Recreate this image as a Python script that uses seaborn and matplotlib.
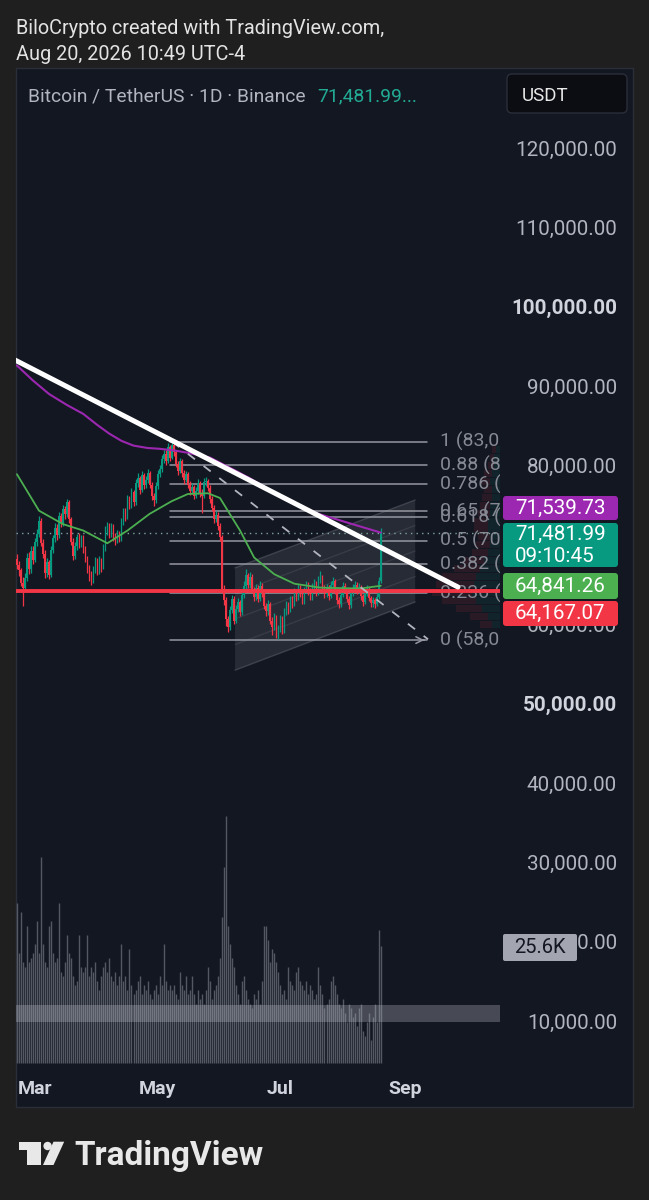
import numpy as np
import pandas as pd
import seaborn as sns
import matplotlib.pyplot as plt
import matplotlib.dates as mdates
from matplotlib.patches import Rectangle, FancyBboxPatch, Polygon, Circle

# BTC/USDT daily candles, Feb 20 - Aug 20 2026 (prices in thousands of USDT)
first_day = "2026-02-20"
first_open_k = 68.2
close_k = [67.5, 66.8, 65.2, 64.6, 65.8, 68.4, 66.9, 69.2, 68.1, 70.3,
           71.4, 73.0, 70.2, 68.9, 66.5, 67.8, 66.2, 69.4, 70.8, 72.1,
           71.2, 73.6, 72.8, 74.5, 73.9, 75.4, 73.2, 70.4, 68.6, 69.8,
           71.0, 70.1, 70.9, 69.5, 68.2, 67.0, 66.2, 65.6, 66.8, 67.9,
           66.7, 68.0, 67.2, 69.6, 71.8, 72.4, 71.5, 72.3, 71.0, 70.6,
           71.4, 70.8, 72.9, 74.1, 73.6, 75.8, 75.0, 76.6, 75.4, 77.8,
           78.4, 76.9, 78.8, 77.5, 78.2, 79.0, 77.6, 76.1, 75.6, 77.4,
           78.9, 79.6, 80.8, 81.5, 80.6, 82.3, 81.0, 82.6, 81.7, 80.2,
           79.3, 80.5, 79.0, 78.2, 78.9, 77.6, 76.8, 77.3, 76.2, 76.8,
           77.8, 76.5, 76.2, 77.9, 78.0, 77.2, 75.8, 74.7, 73.2, 73.8,
           72.4, 71.0, 64.4, 63.0, 60.6, 59.6, 61.8, 63.2, 60.4, 61.9,
           62.8, 61.5, 63.7, 64.8, 66.2, 64.9, 66.0, 64.3, 63.4, 64.6,
           63.2, 64.8, 63.9, 62.3, 61.6, 62.5, 60.4, 59.6, 61.0, 58.9,
           59.4, 60.6, 59.2, 61.5, 62.4, 61.8, 63.1, 62.6, 64.0, 63.3,
           64.6, 63.8, 62.9, 64.2, 65.0, 64.1, 63.4, 64.7, 65.2, 64.0,
           65.6, 65.9, 64.5, 63.8, 64.6, 63.6, 64.9, 65.4, 64.2, 63.1,
           62.5, 63.7, 64.8, 64.3, 63.2, 62.4, 63.9, 64.6, 65.0, 64.2,
           64.7, 63.5, 62.8, 63.9, 64.4, 63.3, 62.7, 63.0, 62.6, 63.4,
           65.5, 71.48199]
high_k = [68.9, 68.0, 67.1, 65.9, 66.4, 69.0, 69.1, 69.8, 69.9, 70.9,
          72.0, 73.6, 73.4, 70.7, 69.3, 68.4, 68.1, 69.9, 71.3, 72.7,
          72.6, 74.1, 74.0, 75.0, 74.9, 75.8, 75.6, 73.5, 70.8, 70.3,
          71.4, 71.5, 71.3, 71.2, 69.9, 68.6, 67.4, 66.7, 67.3, 68.5,
          68.3, 68.6, 68.4, 70.1, 72.4, 72.9, 72.8, 72.8, 72.6, 71.5,
          71.9, 71.8, 73.4, 74.7, 74.6, 76.3, 76.2, 77.1, 76.9, 78.3,
          79.0, 78.7, 79.3, 79.1, 78.7, 79.5, 79.3, 77.9, 76.5, 77.9,
          79.4, 80.1, 81.3, 82.0, 81.9, 82.8, 82.6, 83.0, 82.9, 82.0,
          80.6, 81.0, 80.8, 79.4, 79.3, 79.2, 78.0, 77.8, 77.6, 77.3,
          78.3, 78.1, 77.0, 78.4, 78.5, 78.3, 77.5, 76.1, 75.0, 74.3,
          74.1, 72.8, 71.3, 64.9, 63.4, 61.0, 62.3, 63.7, 63.5, 62.4,
          63.3, 63.1, 64.2, 65.4, 67.0, 66.5, 66.6, 66.3, 64.7, 65.1,
          64.9, 65.5, 65.2, 64.2, 62.7, 63.0, 62.8, 60.9, 61.4, 61.2,
          59.9, 61.1, 61.0, 62.0, 62.9, 62.8, 63.6, 63.5, 64.5, 64.4,
          65.1, 65.0, 64.1, 64.7, 65.5, 65.3, 64.5, 65.2, 65.7, 65.5,
          66.1, 66.7, 66.2, 64.9, 65.1, 64.9, 65.4, 65.9, 65.7, 64.5,
          63.4, 64.2, 65.3, 65.2, 64.6, 63.5, 64.4, 65.1, 65.5, 65.3,
          65.2, 65.0, 63.8, 64.4, 64.9, 64.7, 63.6, 63.4, 63.3, 63.9,
          66.0, 72.1]
low_k = [66.9, 66.1, 64.8, 62.3, 64.2, 65.5, 66.3, 66.5, 67.6, 67.8,
         69.9, 71.0, 69.8, 68.3, 65.8, 66.0, 65.7, 65.9, 69.0, 70.4,
         70.6, 70.9, 72.2, 72.4, 73.3, 73.5, 72.8, 70.0, 68.1, 68.2,
         69.4, 69.6, 69.7, 69.0, 67.8, 66.5, 65.4, 64.9, 65.2, 66.4,
         66.2, 66.3, 66.6, 66.9, 69.2, 71.2, 70.9, 71.0, 70.5, 70.0,
         70.2, 70.3, 70.5, 72.5, 73.0, 73.2, 74.5, 74.7, 74.9, 75.0,
         77.3, 76.4, 76.6, 77.0, 77.1, 77.8, 77.2, 75.6, 74.9, 75.3,
         77.0, 78.5, 79.2, 80.3, 80.1, 80.3, 80.6, 80.8, 81.2, 79.8,
         78.8, 79.0, 78.6, 77.7, 77.9, 77.1, 76.3, 76.4, 75.8, 75.9,
         76.4, 76.0, 74.0, 75.9, 77.4, 76.8, 75.3, 74.2, 72.8, 72.9,
         71.9, 70.5, 63.9, 62.4, 59.8, 59.0, 59.3, 61.4, 60.0, 60.1,
         61.5, 61.0, 61.2, 63.3, 64.4, 64.5, 64.6, 63.9, 62.9, 63.0,
         62.8, 62.9, 63.4, 61.9, 61.0, 61.2, 60.0, 58.6, 59.3, 58.3,
         58.1, 59.0, 58.8, 58.9, 61.1, 61.3, 61.5, 62.1, 62.3, 62.9,
         63.0, 63.4, 62.5, 62.6, 63.9, 63.7, 63.0, 63.1, 64.3, 63.6,
         63.7, 65.2, 64.1, 63.3, 63.4, 63.1, 63.3, 64.5, 63.8, 62.6,
         62.0, 62.2, 63.4, 63.9, 62.8, 61.9, 62.1, 63.5, 64.2, 63.8,
         63.9, 63.1, 62.3, 62.5, 63.6, 62.9, 62.2, 62.2, 62.1, 62.3,
         63.2, 65.2]
volume_k = [35, 24, 33, 22, 21, 30, 22, 23, 24, 26,
            31, 24, 45, 26, 22, 21, 30, 31, 24, 22,
            23, 35, 20, 19, 22, 28, 24, 23, 19, 17,
            18, 28, 21, 20, 21, 28, 19, 21, 20, 22,
            18, 16, 19, 21, 22, 20, 23, 19, 18, 20,
            17, 19, 26, 18, 19, 16, 25, 17, 15, 16,
            18, 19, 15, 17, 16, 18, 15, 14, 16, 17,
            15, 19, 17, 26, 18, 16, 17, 16, 17, 15,
            14, 20, 17, 16, 19, 15, 16, 19, 15, 13,
            16, 14, 15, 13, 16, 21, 18, 14, 16, 17,
            19, 23, 32, 43, 54, 30, 26, 23, 21, 17,
            15, 13, 18, 19, 16, 14, 13, 12, 15, 14,
            16, 13, 18, 30, 30, 27, 22, 25, 24, 22,
            20, 17, 15, 16, 14, 21, 18, 17, 16, 20,
            21, 18, 17, 16, 18, 15, 17, 16, 14, 15,
            21, 17, 15, 12, 13, 14, 18, 19, 17, 15,
            13, 12, 14, 11, 9, 13, 12, 10, 11, 8,
            12, 13, 7, 6, 9, 11, 5, 10, 13, 9,
            29, 25.6]

# indicators (day offset from first_day, value in k)
ma_green_day = [0, 11, 23, 33, 45, 55, 66, 77, 85, 95, 101, 111, 118, 128, 138, 151, 171, 181]
ma_green_k = [78.9, 74.3, 72.6, 71.8, 70.2, 71.8, 73.9, 75.5, 76.4, 76.5, 75.9, 71.8, 68.4,
              66.3, 65.1, 64.6, 64.5, 64.84126]
ma_purple_day = [0, 8, 16, 25, 33, 40, 46, 52, 58, 65, 71, 78, 85, 96, 106, 115, 124, 134, 150, 167, 181]
ma_purple_k = [92.6, 90.7, 89.0, 87.6, 86.5, 85.1, 84.0, 83.1, 82.5, 82.2, 82.1, 81.9, 81.6, 81.0,
               79.7, 78.5, 77.2, 75.6, 73.9, 72.6, 71.53973]
red_level = 64167.07

# drawings
trend_day = [-1, 219.4]
trend_k = [93.29, 64.68]
fib_day = [76.2, 204.0]
fib_low, fib_high = 58000, 83000
fib_levels = [0, 0.236, 0.382, 0.5, 0.618, 0.65, 0.786, 0.88, 1]
fib_diag_day = [77.2, 204.5]
fib_diag_k = [83.0, 58.1]
channel_day = [108.5, 198.1]
channel_low_k = [54.2, 62.8]
channel_high_k = [67.1, 75.65]
band_k = [9.87, 12.0]

# visible range volume profile (k price levels, widths in days)
vp_levels_k = [60, 61, 62, 63, 64, 65, 66, 67, 68, 69, 70, 71, 72, 73, 74, 75, 76, 77, 78, 79, 80, 81, 82]
vp_up_days = [4, 6, 9, 12, 14, 13, 12, 10, 8, 6, 5, 5, 6, 6, 5, 5, 4, 4, 5, 4, 3, 3, 2]
vp_down_days = [6, 9, 13, 17, 20, 19, 17, 13, 10, 8, 7, 6, 7, 7, 6, 5, 5, 4, 4, 4, 3, 2, 2]

OUTER = "#1f1f1f"
PANEL = "#131722"
UP = "#089981"
DOWN = "#f23645"
GRAY = "#b2b5be"

sns.set_theme(style="dark", rc={"axes.facecolor": PANEL, "figure.facecolor": OUTER})
plt.rcParams["font.family"] = ["Roboto", "DejaVu Sans"]

t0 = pd.Timestamp(first_day)


def dnum(d):
    return mdates.date2num(t0 + pd.Timedelta(days=d))


df = pd.DataFrame({
    "date": pd.date_range(first_day, periods=len(close_k), freq="D"),
    "close": np.array(close_k) * 1000,
    "high": np.array(high_k) * 1000,
    "low": np.array(low_k) * 1000,
    "volume": volume_k,
})
df["open"] = df["close"].shift(1).fillna(first_open_k * 1000)
df["color"] = np.where(df["close"] >= df["open"], UP, DOWN)

fig = plt.figure(figsize=(6.49, 12), dpi=100, facecolor=OUTER)

# background layer in pixel coordinates
bg = fig.add_axes([0, 0, 1, 1], zorder=-10)
bg.set_xlim(0, 649)
bg.set_ylim(1200, 0)
bg.axis("off")
bg.add_patch(Rectangle((15.5, 68), 617, 1039, fc=PANEL, ec="#2a2e39", lw=1))
bg.text(16, 33.5, "BiloCrypto created with TradingView.com,", color="#e3e3e3", fontsize=14.3, va="baseline")
bg.text(16, 60, "Aug 20, 2026 10:49 UTC-4", color="#e3e3e3", fontsize=14.3, va="baseline")
bg.text(28, 101.5, "Bitcoin / TetherUS · 1D · Binance", color=GRAY, fontsize=13.9, va="baseline")
bg.text(317, 101.5, f"{close_k[-1] * 1000:,.2f}...", color="#22ab94", fontsize=13.9, va="baseline")
# TradingView logo
bg.add_patch(Polygon([(18.6, 1141.7), (41.4, 1141.7), (41.4, 1165), (27, 1165), (27, 1150), (18.6, 1150)],
                     closed=True, fc="#e8e8e8", ec="none"))
bg.add_patch(Circle((47.6, 1146), 4.2, fc="#e8e8e8", ec="none"))
bg.add_patch(Polygon([(53.5, 1141.7), (64.2, 1141.7), (53.5, 1165), (43, 1165)], closed=True, fc="#e8e8e8", ec="none"))
bg.text(74, 1165, "TradingView", color="#e8e8e8", fontsize=24, fontweight="bold", va="baseline")

# price axes + volume twin
ax = fig.add_axes([16 / 649, 130 / 1200, 484 / 649, 999 / 1200])
axv = ax.twinx()
ax.set_zorder(2)
axv.set_zorder(1)
ax.patch.set_visible(False)
axv.patch.set_visible(False)

axv.vlines(df["date"], 0, df["volume"], color="#545863", lw=1.0)
axv.set_ylim(-1.53, 217.1)
axv.set_yticks([])
axv.tick_params(right=False, labelright=False)

# channel
cx = [dnum(channel_day[0]), dnum(channel_day[1]), dnum(channel_day[1]), dnum(channel_day[0])]
cy = [channel_low_k[0] * 1000, channel_low_k[1] * 1000, channel_high_k[1] * 1000, channel_high_k[0] * 1000]
ax.add_patch(Polygon(list(zip(cx, cy)), closed=True, fc=GRAY, alpha=0.13, ec="none", zorder=1))
for f in [0, 0.25, 0.5, 0.75, 1]:
    ys = [(channel_low_k[j] + f * (channel_high_k[j] - channel_low_k[j])) * 1000 for j in range(2)]
    ax.plot([cx[0], cx[1]], ys, color=GRAY, alpha=0.22 if f in (0, 1) else 0.12, lw=1, zorder=1)

# volume profile
right = dnum(240.3)
vp_lv = np.array(vp_levels_k) * 1000
ax.barh(vp_lv, vp_up_days, left=right - np.array(vp_up_days), height=880, color=UP, alpha=0.1, lw=0, zorder=1)
ax.barh(vp_lv, vp_down_days, left=right - np.array(vp_up_days) - np.array(vp_down_days), height=880,
        color=DOWN, alpha=0.1, lw=0, zorder=1)

# band drawing over volume
ax.axhspan(band_k[0] * 1000, band_k[1] * 1000, color=GRAY, alpha=0.33, lw=0, zorder=1)

# fib retracement
for lv in fib_levels:
    p = fib_low + lv * (fib_high - fib_low)
    ax.plot([dnum(fib_day[0]), dnum(fib_day[1])], [p, p], color="#9598a1", lw=1.1, zorder=2)
    ax.text(dnum(210.5), p, f"{lv:g} ({p:,.2f})", color="#868993", fontsize=14, va="center", ha="left",
            clip_on=True, zorder=2)
ax.annotate("", xy=(dnum(fib_day[1]), fib_low), xytext=(dnum(fib_day[1] - 3), fib_low),
            arrowprops=dict(arrowstyle="->", color="#9598a1", lw=1.1), zorder=2)
ax.plot([dnum(d) for d in fib_diag_day], [v * 1000 for v in fib_diag_k], color=GRAY, lw=1.3,
        ls=(0, (5, 6)), zorder=5)

# last price line
ax.axhline(close_k[-1] * 1000, color="#7fa39d", lw=1, ls=(0, (1, 3)), zorder=2)

# candles
ax.vlines(df["date"], df["low"], df["high"], colors=df["color"], lw=0.9, zorder=3)
body_lo = np.minimum(df["open"], df["close"])
body_h = np.maximum(np.abs(df["close"] - df["open"]), 80)
ax.bar(df["date"], body_h, bottom=body_lo, width=0.72, color=df["color"], lw=0, zorder=3)

# moving averages
sns.lineplot(x=t0 + pd.to_timedelta(ma_purple_day, unit="D"), y=np.array(ma_purple_k) * 1000,
             ax=ax, color="#9c27b0", lw=1.5, zorder=4)
sns.lineplot(x=t0 + pd.to_timedelta(ma_green_day, unit="D"), y=np.array(ma_green_k) * 1000,
             ax=ax, color="#4caf50", lw=1.3, zorder=4)

ax.axhline(red_level, color=DOWN, lw=2.8, zorder=4.5)
ax.plot([dnum(d) for d in trend_day], [v * 1000 for v in trend_k], color="white", lw=3.6,
        solid_capstyle="round", zorder=6)

ax.set_xlim(dnum(-0.45), dnum(240.3))
ax.set_ylim(3830, 129700)
ax.set_xlabel("")
ax.set_ylabel("")
ax.grid(False)
axv.grid(False)
for a in (ax, axv):
    for s in a.spines.values():
        s.set_visible(False)

yt = list(range(10000, 130000, 10000))
ax.yaxis.tick_right()
ax.set_yticks(yt, labels=[f"{v:,.2f}" for v in yt])
ax.tick_params(axis="y", length=0, pad=84.2, labelsize=14.9, labelcolor=GRAY)
for v, lbl in zip(yt, ax.get_yticklabels()):
    lbl.set_horizontalalignment("right")
    if v in (50000, 100000):
        lbl.set_fontweight("bold")
        lbl.set_color("#d1d4dc")

xt = [pd.Timestamp("2026-03-01"), pd.Timestamp("2026-05-01"), pd.Timestamp("2026-07-01"), pd.Timestamp("2026-09-01")]
ax.set_xticks(xt, labels=[d.strftime("%b") for d in xt])
ax.tick_params(axis="x", length=0, pad=7, labelsize=14, labelcolor="#d1d4dc")
for lbl in ax.get_xticklabels():
    lbl.set_fontweight("bold")

# price scale tags (top layer, pixel coordinates)
top = fig.add_axes([0, 0, 1, 1], zorder=10)
top.set_xlim(0, 649)
top.set_ylim(1200, 0)
top.axis("off")
top.patch.set_visible(False)

tags = [
    (496, 24, "#9c27b0", [f"{ma_purple_k[-1] * 1000:,.2f}"]),
    (523, 44, UP, [f"{close_k[-1] * 1000:,.2f}", "09:10:45"]),
    (573, 26, "#4caf50", [f"{ma_green_k[-1] * 1000:,.2f}"]),
    (601, 25, DOWN, [f"{red_level:,.2f}"]),
]
for y0, h, c, lines in tags:
    top.add_patch(FancyBboxPatch((503, y0), 115, h, boxstyle="round,pad=0,rounding_size=3", fc=c, ec="none"))
    n = len(lines)
    for k, s in enumerate(lines):
        yc = y0 + h * (k + 0.5) / n
        top.text(515, yc, s, color="white", fontsize=14.9, va="center", ha="left")

top.add_patch(FancyBboxPatch((503, 934), 74, 27, boxstyle="round,pad=0,rounding_size=2", fc="#a3a6b0", ec="none"))
top.text(540, 947.5, f"{volume_k[-1]}K", color=PANEL, fontsize=14.5, va="center", ha="center")

top.add_patch(FancyBboxPatch((507, 74), 120, 39, boxstyle="round,pad=0,rounding_size=5", fc="#0c0d12",
                             ec="#2a2e39", lw=1))
top.text(522, 101, "USDT", color="#e8e8e8", fontsize=13.5, va="baseline")

fig.savefig("out.png", dpi=100, facecolor=OUTER)
